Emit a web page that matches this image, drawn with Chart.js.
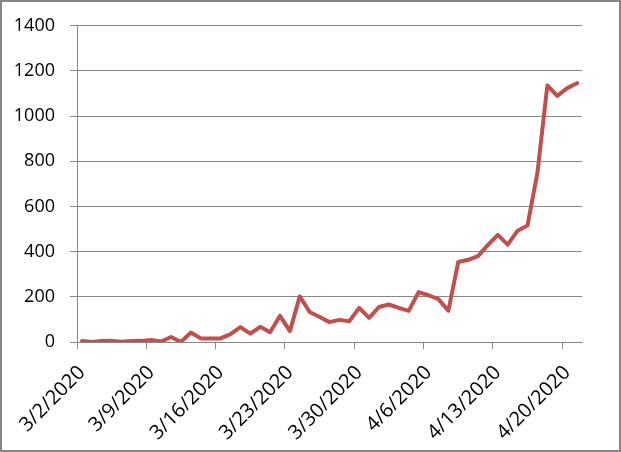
<!DOCTYPE html>
<html>
<head>
<meta charset="utf-8">
<script src="https://cdn.jsdelivr.net/npm/chart.js@4/dist/chart.umd.min.js"></script>
<style>
  html, body { margin: 0; padding: 0; background: #fff; }
  #wrap { width: 621px; height: 452px; position: relative; }
</style>
</head>
<body>
<div id="wrap"><canvas id="c" width="621" height="452"></canvas></div>
<script>
const dates = [
  '3/2/2020','3/3/2020','3/4/2020','3/5/2020','3/6/2020','3/7/2020','3/8/2020',
  '3/9/2020','3/10/2020','3/11/2020','3/12/2020','3/13/2020','3/14/2020','3/15/2020',
  '3/16/2020','3/17/2020','3/18/2020','3/19/2020','3/20/2020','3/21/2020','3/22/2020',
  '3/23/2020','3/24/2020','3/25/2020','3/26/2020','3/27/2020','3/28/2020','3/29/2020',
  '3/30/2020','3/31/2020','4/1/2020','4/2/2020','4/3/2020','4/4/2020','4/5/2020',
  '4/6/2020','4/7/2020','4/8/2020','4/9/2020','4/10/2020','4/11/2020','4/12/2020',
  '4/13/2020','4/14/2020','4/15/2020','4/16/2020','4/17/2020','4/18/2020','4/19/2020',
  '4/20/2020','4/21/2020'
];
const cases = [
  4, 0, 4, 5, 1, 4, 5,
  9, 2, 22, 0, 42, 16, 16,
  16, 35, 66, 37, 67, 43, 116,
  48, 202, 133, 111, 88, 98, 92,
  151, 107, 155, 166, 151, 138, 221,
  207, 190, 138, 354, 364, 380, 430,
  474, 431, 493, 516, 750, 1136, 1090,
  1124, 1146
];
const xTickLabels = ['3/2/2020','3/9/2020','3/16/2020','3/23/2020','3/30/2020','4/6/2020','4/13/2020','4/20/2020'];
const yTickValues = [0, 200, 400, 600, 800, 1000, 1200, 1400];

const gridGray = '#878787';
const fontFamily = '"Open Sans", "Liberation Sans", sans-serif';

const borderPlugin = {
  id: 'frame',
  beforeDraw(chart) {
    const ctx = chart.ctx;
    ctx.save();
    ctx.fillStyle = '#fff';
    ctx.fillRect(0, 0, chart.width, chart.height);
    ctx.restore();
  },
  afterDraw(chart) {
    const ctx = chart.ctx;
    ctx.save();
    ctx.strokeStyle = '#868686';
    ctx.lineWidth = 2;
    ctx.strokeRect(1, 1, chart.width - 2, chart.height - 2);
    ctx.restore();
  }
};

new Chart(document.getElementById('c'), {
  type: 'line',
  data: {
    datasets: [{
      data: cases.map((v, i) => ({ x: i, y: v })),
      borderColor: '#C0504D',
      backgroundColor: '#C0504D',
      borderWidth: 4,
      borderJoinStyle: 'round',
      borderCapStyle: 'round',
      pointRadius: 0,
      tension: 0,
      fill: false
    }]
  },
  options: {
    responsive: false,
    animation: false,
    events: [],
    layout: { padding: { left: 0, top: 24, right: 39, bottom: 0 } },
    plugins: { legend: { display: false }, tooltip: { enabled: false } },
    scales: {
      x: {
        type: 'linear',
        min: -0.5,
        max: dates.length - 0.5,
        afterBuildTicks(scale) {
          scale.ticks = xTickLabels.map(l => ({ value: dates.indexOf(l) - 0.5 }));
        },
        afterFit(scale) { scale.height = 110; },
        grid: {
          display: true,
          drawOnChartArea: false,
          drawTicks: true,
          tickLength: 7,
          color: gridGray,
          lineWidth: 1
        },
        border: { display: true, color: gridGray, width: 1 },
        ticks: {
          autoSkip: false,
          minRotation: 45,
          maxRotation: 45,
          padding: 12,
          labelOffset: 5,
          color: '#000',
          font: { family: fontFamily, size: 20 },
          callback(value) { return dates[Math.round(value + 0.5)]; }
        }
      },
      y: {
        min: 0,
        max: 1400,
        afterBuildTicks(scale) {
          scale.ticks = yTickValues.map(v => ({ value: v }));
        },
        afterFit(scale) { scale.width = 77; },
        grid: {
          color: gridGray,
          lineWidth: 1,
          drawTicks: true,
          tickLength: 7
        },
        border: { display: true, color: gridGray, width: 1 },
        ticks: {
          padding: 15,
          color: '#000',
          font: { family: fontFamily, size: 18 },
          callback(value) { return String(value); }
        }
      }
    }
  },
  plugins: [borderPlugin]
});
</script>
</body>
</html>
